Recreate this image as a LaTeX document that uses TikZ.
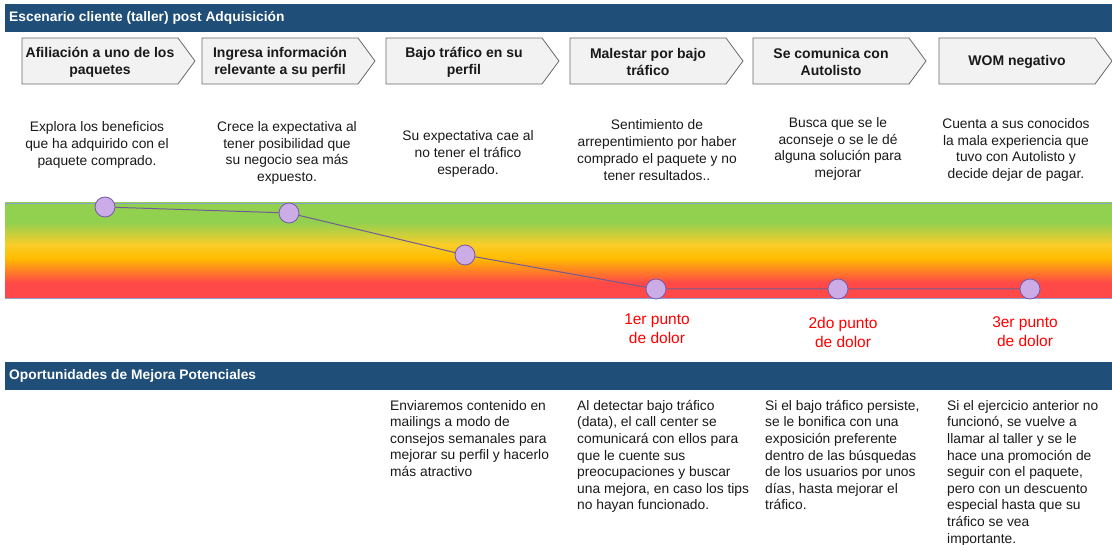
\documentclass[tikz,border=0pt]{standalone}
\usepackage{fontspec}
\setmainfont{Liberation Sans}
\usepackage{tikz}

\definecolor{barblue}{RGB}{31,78,121}
\definecolor{chevgray}{RGB}{242,242,242}
\definecolor{chevline}{RGB}{105,105,105}
\definecolor{puntofill}{RGB}{204,172,230}
\definecolor{puntoline}{RGB}{118,88,170}
\definecolor{curva}{RGB}{112,92,150}
\definecolor{bandline}{RGB}{140,160,205}
\definecolor{dolorgreen}{RGB}{146,208,80}
\definecolor{doloryellow}{RGB}{250,205,40}
\definecolor{dolororange}{RGB}{255,188,0}
\definecolor{dolorred}{RGB}{255,72,72}

\pgfdeclareverticalshading{dolor}{100bp}{color(0bp)=(dolorred); color(33bp)=(dolorred); color(46bp)=(dolororange); color(53bp)=(doloryellow); color(65bp)=(dolorgreen); color(100bp)=(dolorgreen)}

\begin{document}
\begin{tikzpicture}[x=1pt,y=-1pt,every node/.style={black!90,inner sep=0pt},
	bar/.style={fill=barblue},
	bartext/.style={white,anchor=west,font=\fontsize{13.8}{16}\selectfont\bfseries},
	chev/.style={fill=chevgray,draw=chevline,line width=0.8pt},
	chevtext/.style={align=center,font=\fontsize{14}{17}\selectfont\bfseries},
	desc/.style={align=center,font=\fontsize{13.8}{16.8}\selectfont},
	punto/.style={circle,minimum size=20pt,fill=puntofill,draw=puntoline,line width=0.8pt},
	dolor/.style={align=center,red,font=\fontsize{15.5}{19}\selectfont},
	mejora/.style={align=left,anchor=north west,font=\fontsize{13.8}{16.6}\selectfont}]
	\useasboundingbox (0,0) rectangle (1112,545);

	\fill[bar] (5,4) rectangle (1112,32);
	\node[bartext] (tit1) at (9,18) {Escenario cliente (taller) post Adquisición};

	\foreach \x/\n/\t in {22/p1/{Afiliación a uno de los\\paquetes},
		202/p2/{Ingresa información\\relevante a su perfil},
		386/p3/{Bajo tráfico en su\\perfil},
		570/p4/{Malestar por bajo\\tráfico},
		753/p5/{Se comunica con\\Autolisto},
		939/p6/{WOM negativo}}{
		\filldraw[chev] (\x,38) -- ++(156,0) -- ++(17,23) -- ++(-17,23) -- ++(-156,0) -- cycle;
		\node[chevtext] (\n) at (\x+78,62) {\t};
	}

	\node[desc] (e1) at (97,145) {Explora los beneficios\\que ha adquirido con el\\paquete comprado.};
	\node[desc] (e2) at (287,153) {Crece la expectativa al\\tener posibilidad que\\su negocio sea más\\expuesto.};
	\node[desc] (e3) at (468,154) {Su expectativa cae al\\no tener el tráfico\\esperado.};
	\node[desc] (e4) at (657,150) {Sentimiento de\\arrepentimiento por haber\\comprado el paquete y no\\tener resultados..};
	\node[desc] (e5) at (838,149) {Busca que se le\\aconseje o se le dé\\alguna solución para\\mejorar};
	\node[desc] (e6) at (1016,150) {Cuenta a sus conocidos\\la mala experiencia que\\tuvo con Autolisto y\\decide dejar de pagar.};

	\shade[shading=dolor] (5,203) rectangle (1112,298);
	\draw[bandline] (5,203) -- (1112,203) (5,298) -- (1112,298);

	\node[punto] (d1) at (105,207) {};
	\node[punto] (d2) at (289,213) {};
	\node[punto] (d3) at (465,255) {};
	\node[punto] (d4) at (656,289) {};
	\node[punto] (d5) at (838,289) {};
	\node[punto] (d6) at (1030,289) {};
	\draw[curva,line width=1pt] (d1) -- (d2) -- (d3) -- (d4) -- (d5) -- (d6);

	\node[dolor] (dol1) at (657,329) {1er punto\\de dolor};
	\node[dolor] (dol2) at (843,332) {2do punto\\de dolor};
	\node[dolor] (dol3) at (1025,332) {3er punto\\de dolor};

	\fill[bar] (5,362) rectangle (1112,390);
	\node[bartext] (tit2) at (9,376) {Oportunidades de Mejora Potenciales};

	\node[mejora] (m3) at (390,400) {Enviaremos contenido en\\mailings a modo de\\consejos semanales para\\mejorar su perfil y hacerlo\\más atractivo};
	\node[mejora] (m4) at (577,400) {Al detectar bajo tráfico\\(data), el call center se\\comunicará con ellos para\\que le cuente sus\\preocupaciones y buscar\\una mejora, en caso los tips\\no hayan funcionado.};
	\node[mejora] (m5) at (765,400) {Si el bajo tráfico persiste,\\se le bonifica con una\\exposición preferente\\dentro de las búsquedas\\de los usuarios por unos\\días, hasta mejorar el\\tráfico.};
	\node[mejora] (m6) at (947,400) {Si el ejercicio anterior no\\funcionó, se vuelve a\\llamar al taller y se le\\hace una promoción de\\seguir con el paquete,\\pero con un descuento\\especial hasta que su\\tráfico se vea\\importante.};
\end{tikzpicture}
\end{document}
